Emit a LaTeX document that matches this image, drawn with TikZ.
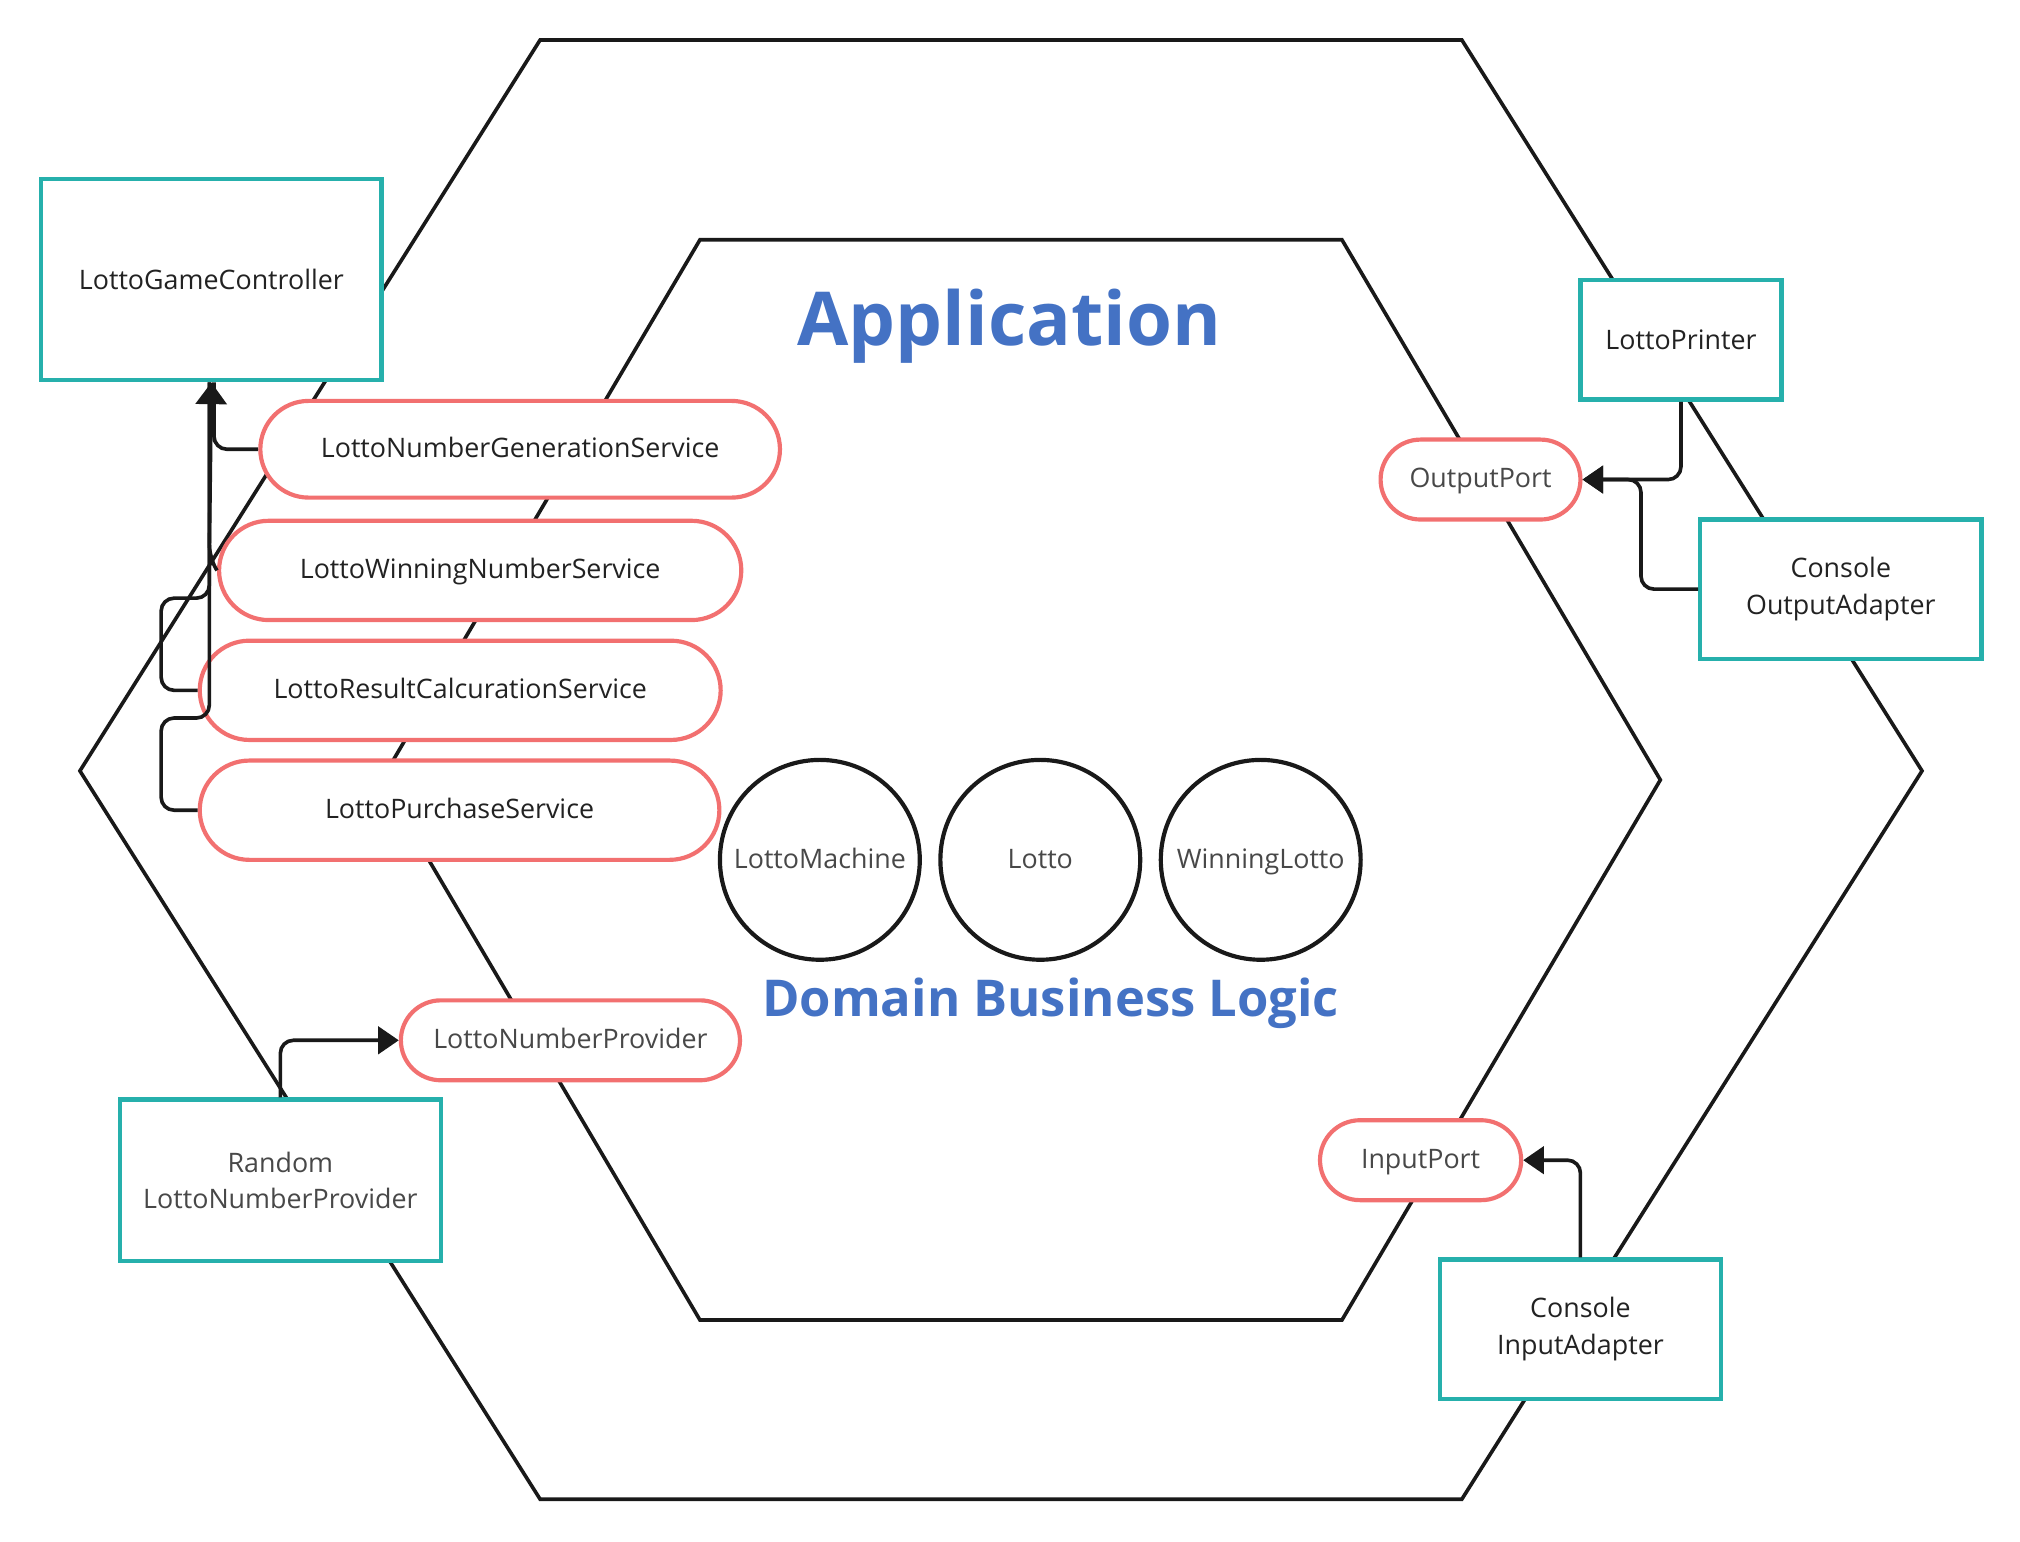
\documentclass[tikz,border=0pt]{standalone}
\usepackage{fontspec}
\setmainfont{Open Sans}
\usetikzlibrary{arrows.meta,shapes.misc,positioning}
\definecolor{hexteal}{RGB}{38,176,172}
\definecolor{hexpink}{RGB}{242,112,112}
\definecolor{hexblue}{RGB}{68,114,196}
\definecolor{hextext}{RGB}{34,34,34}
\definecolor{hexgray}{RGB}{72,72,72}

\tikzset{
    adapter/.style={draw=hexteal, line width=2.4pt, fill=white, text=hextext, align=center, inner sep=0pt, font=\fontsize{14.8}{20}\selectfont},
    port/.style={rounded rectangle, draw=hexpink, line width=2.3pt, fill=white, text=hextext, inner sep=0pt, text height=0.44cm, text depth=0.12cm, font=\fontsize{14.8}{20}\selectfont},
    entity/.style={circle, draw=black!90, line width=2.3pt, fill=white, minimum size=3.875cm, inner sep=0pt, text=hexgray, text height=0.44cm, text depth=0.12cm, font=\fontsize{14.8}{20}\selectfont},
    conn/.style={line width=2pt, draw=black!90, rounded corners=0.25cm},
    tip/.style={-{Triangle[length=0.4cm,width=0.53cm]}},
    bigtip/.style={-{Triangle[length=0.42cm,width=0.6cm]}},
    hexline/.style={line width=2pt, draw=black!90, line join=miter}
}

\begin{document}
\begin{tikzpicture}[x=0.025cm, y=-0.025cm]
    \useasboundingbox (0,0) rectangle (1567,1195.5);

    % Hexagons
    \draw[hexline] (419,31) -- (1134,31) -- (1491,598) -- (1134,1163) -- (419,1163) -- (62,598) -- cycle;
    \draw[hexline] (543,186) -- (1041,186) -- (1288,605) -- (1041,1024) -- (543,1024) -- (296,605) -- cycle;

    % Titles
    \node[text=hexblue, font=\fontsize{41}{48}\bfseries] (apptitle) at (783,253) {Application};
    \node[text=hexblue, font=\fontsize{28}{34}\bfseries] (domtitle) at (815,778) {Domain Business Logic};

    % Domain entities
    \node[entity] (machine) at (636,667) {LottoMachine};
    \node[entity] (lotto) at (807,667) {Lotto};
    \node[entity] (winning) at (978,667) {WinningLotto};

    % Services
    \node[port, minimum width=10.075cm, minimum height=1.875cm] (ngs) at (403.5,348.5) {LottoNumberGenerationService};
    \node[port, minimum width=10.125cm, minimum height=1.925cm] (wns) at (372.5,442.5) {LottoWinningNumberService};
    \node[port, minimum width=10.1cm, minimum height=1.925cm] (rcs) at (357,535.5) {LottoResultCalcurationService};
    \node[port, minimum width=10.075cm, minimum height=1.925cm] (ps) at (356.5,628.5) {LottoPurchaseService};

    % Ports
    \node[port, text=hexgray, minimum width=3.875cm, minimum height=1.55cm] (outport) at (1148.5,372) {OutputPort};
    \node[port, text=hexgray, minimum width=6.575cm, minimum height=1.55cm] (provider) at (442.5,807) {LottoNumberProvider};
    \node[port, text=hexgray, minimum width=3.9cm, minimum height=1.55cm] (inport) at (1102,900) {InputPort};

    % Adapters
    \node[adapter, minimum width=6.6cm, minimum height=3.9cm] (ctrl) at (164,217) {LottoGameController};
    \node[adapter, minimum width=3.9cm, minimum height=2.325cm] (printer) at (1304,263.5) {LottoPrinter};
    \node[adapter, minimum width=5.45cm, minimum height=2.7cm] (outadapter) at (1428,457) {Console\\OutputAdapter};
    \node[adapter, text=hexgray, minimum width=6.225cm, minimum height=3.125cm] (randprov) at (217.5,915.5) {Random\\LottoNumberProvider};
    \node[adapter, minimum width=5.45cm, minimum height=2.7cm] (inadapter) at (1226,1031) {Console\\InputAdapter};

    % Service connectors
    \draw[conn] (ngs.west) -| ([xshift=0.05cm]ctrl.south);
    \draw[conn] (rcs.west) -| (125,464) -| ([xshift=-0.04cm]ctrl.south);
    \draw[conn] (ps.west) -| (125,557) -| ([xshift=-0.04cm]ctrl.south);
    \draw[conn, bigtip] (wns.west) -- ++(-6,-10) -- (ctrl.south);

    % Port connectors
    \draw[conn, tip] (printer.south) |- (outport.east);
    \draw[conn, tip] (outadapter.west) -| (1273,372) -- (outport.east);
    \draw[conn, tip] (inadapter.north) |- (inport.east);
    \draw[conn, tip] (randprov.north) |- (provider.west);
\end{tikzpicture}
\end{document}
